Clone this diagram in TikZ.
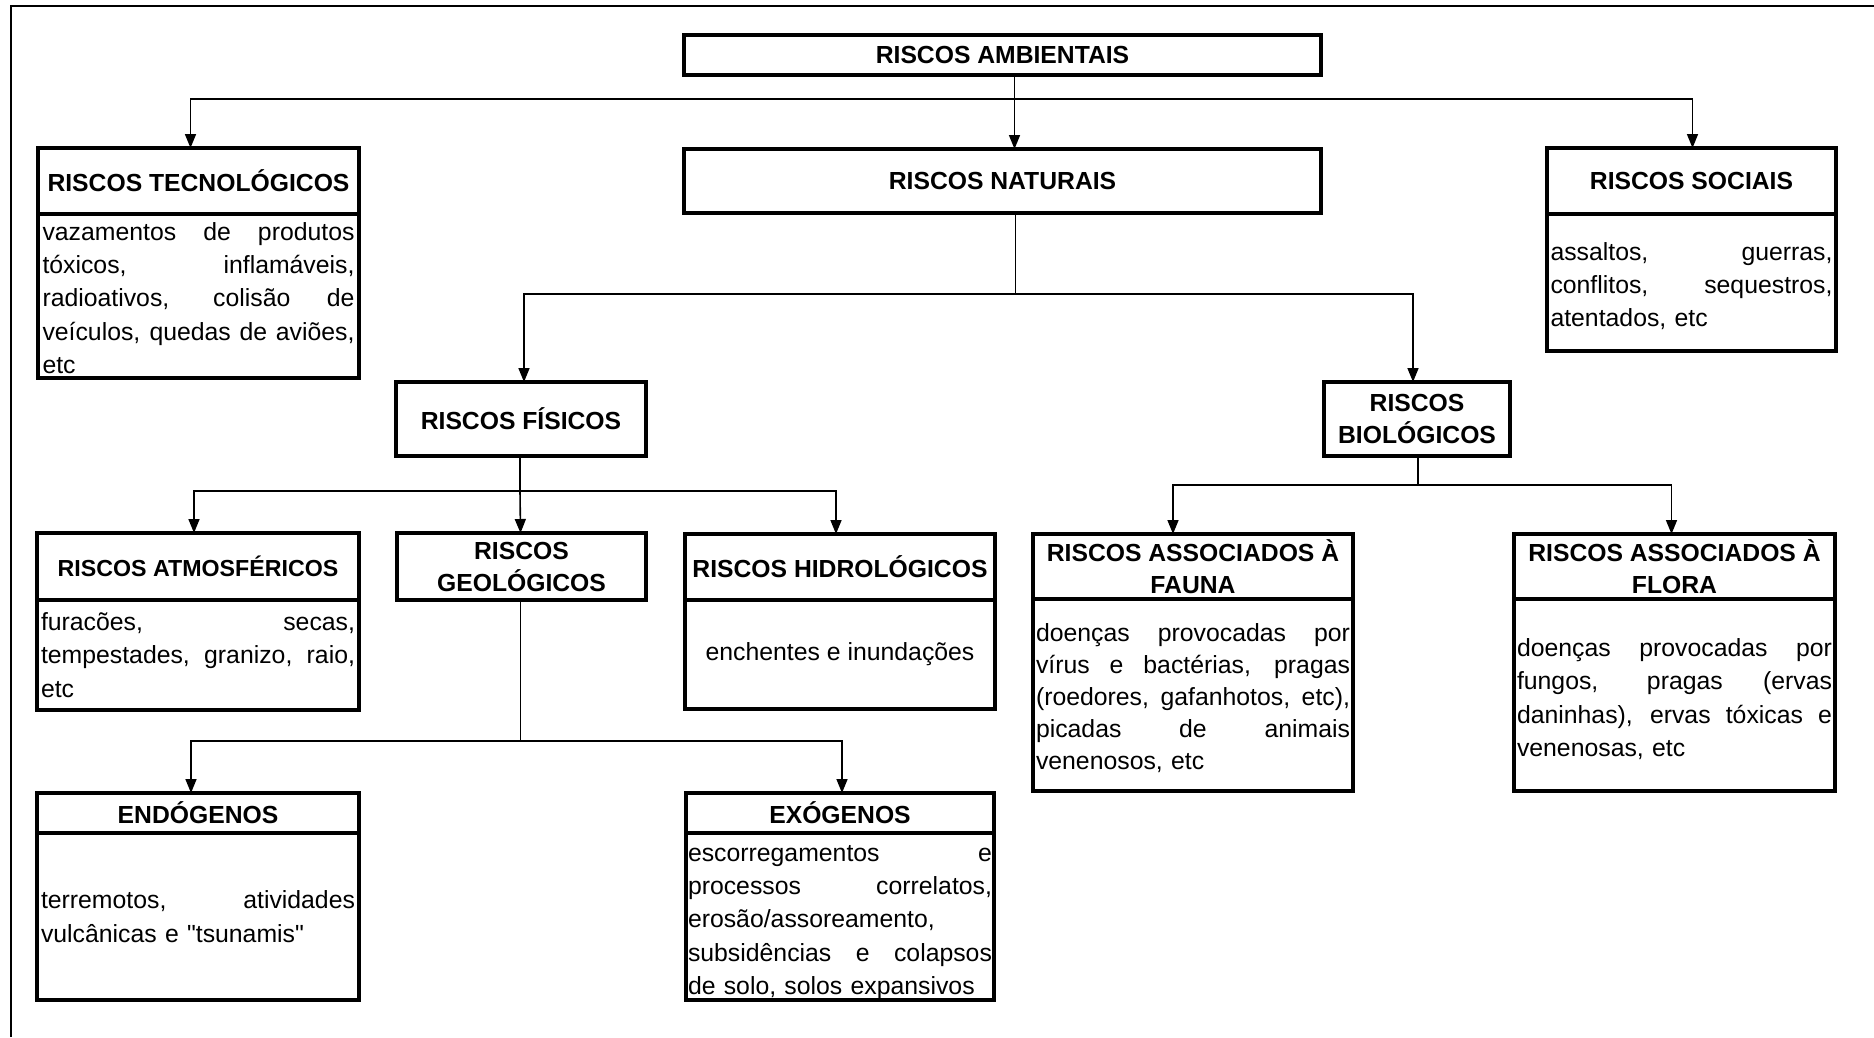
\documentclass[tikz,border=0pt]{standalone}
\usepackage{fontspec}
\setmainfont{Liberation Sans}[Ligatures=TeXOff]
\usetikzlibrary{arrows.meta}

% heading and body type
\newcommand\hdfont{\fontsize{24.7}{32}\selectfont\bfseries}
\newcommand\hdsmall{\fontsize{23.2}{30}\selectfont\bfseries}
\newcommand\txfont{\fontsize{24.8}{33.3}\selectfont\parindent=0pt }
\newcommand\txtight{\fontsize{24.8}{32}\selectfont\parindent=0pt }
% one fully justified line of body text, as wide as the current column
\newlength\colw
\newcommand\jl[1]{\leavevmode\hbox to \colw{\spaceskip=.28em plus 1fil minus .1em\xspaceskip=\spaceskip #1}}

\tikzset{
  box/.style={draw, line width=3.5pt, anchor=north west, inner sep=0pt,
    outer sep=0pt, align=center, font=\hdfont},
  txt/.style={draw, line width=3.5pt, anchor=north west, inner sep=0pt,
    outer sep=0pt, align=left, font=\txfont, text width=#1,
    execute at begin node={\setlength{\colw}{#1}}},
  plain/.style={draw, line width=3.5pt, anchor=north west, inner sep=0pt,
    outer sep=0pt, align=center, font=\txfont},
  wire/.style={line width=1.6pt},
  conn/.style={wire, -{Triangle[length=14pt,width=11pt]}},
  frame/.style={line width=1.8pt}
}

\begin{document}
\begin{tikzpicture}[x=1pt,y=-1pt]
\useasboundingbox (0,0) rectangle (1874,1037);

% page frame (top and left rules)
\draw[frame] (11,1037) -- (11,6) -- (1874,6);

% top level
\node[box, minimum width=637pt, minimum height=40pt] (amb) at (684,35) {RISCOS AMBIENTAIS};
\node[box, minimum width=637pt, minimum height=64pt] (nat) at (684,149) {RISCOS NATURAIS};

% technological risks
\node[txt=312pt, minimum width=321pt, minimum height=164pt] (tecb) at (38,214)
  {\jl{vazamentos de produtos}\\\jl{tóxicos, inflamáveis,}\\\jl{radioativos, colisão de}\\\jl{veículos, quedas de aviões,}\\etc\vspace{-4pt}};
\node[box, minimum width=321pt, minimum height=66pt] (tec) at (38,148) {RISCOS TECNOLÓGICOS};

% social risks
\node[txt=282pt, minimum width=289pt, minimum height=137pt] (socb) at (1547,214)
  {\jl{assaltos, guerras,}\\\jl{conflitos, sequestros,}\\atentados, etc\vspace{-7pt}};
\node[box, minimum width=289pt, minimum height=66pt] (soc) at (1547,148) {RISCOS SOCIAIS};

% physical and biological risks
\node[box, minimum width=250pt, minimum height=74pt] (fis) at (396,382) {RISCOS FÍSICOS};
\node[box, minimum width=186pt, minimum height=74pt] (bio) at (1324,382) {RISCOS\\BIOLÓGICOS};

% atmospheric
\node[txt=314pt, minimum width=322pt, minimum height=110pt] (atmb) at (37,600)
  {\jl{furacões, secas,}\\\jl{tempestades, granizo, raio,}\\etc};
\node[box, minimum width=322pt, minimum height=67pt, font=\hdsmall] (atm) at (37,533) {RISCOS ATMOSFÉRICOS};

% geological
\node[box, minimum width=249pt, minimum height=67pt] (geo) at (397,533) {RISCOS\\GEOLÓGICOS};

% hydrological
\node[plain, minimum width=310pt, minimum height=109pt] (hidb) at (685,600)
  {enchentes e inundações};
\node[box, minimum width=310pt, minimum height=66pt] (hid) at (685,534) {RISCOS HIDROLÓGICOS};

% endogenous
\node[txt=314pt, minimum width=322pt, minimum height=167pt] (endb) at (37,833)
  {\jl{terremotos, atividades}\\vulcânicas e "tsunamis"};
\node[box, minimum width=322pt, minimum height=40pt] (endh) at (37,793) {ENDÓGENOS};

% exogenous
\node[txt=304pt, minimum width=308pt, minimum height=167pt] (exob) at (686,833)
  {\jl{escorregamentos e}\\\jl{processos correlatos,}\\erosão/assoreamento,\\\jl{subsidências e colapsos}\\de solo, solos expansivos\vphantom{p}\vspace{-12pt}};
\node[box, minimum width=308pt, minimum height=40pt] (exoh) at (686,793) {EXÓGENOS};

% fauna
\node[txt=314pt, font=\txtight, minimum width=320pt, minimum height=192pt] (faub) at (1033,599)
  {\jl{doenças provocadas por}\\\jl{vírus e bactérias, pragas}\\\jl{(roedores, gafanhotos, etc),}\\\jl{picadas de animais}\\venenosos, etc\vspace{-7pt}};
\node[box, minimum width=320pt, minimum height=65pt] (fauh) at (1033,534) {RISCOS ASSOCIADOS À\\FAUNA};

% flora
\node[txt=315pt, minimum width=321pt, minimum height=192pt] (flob) at (1514,599)
  {\jl{doenças provocadas por}\\\jl{fungos, pragas (ervas}\\\jl{daninhas), ervas tóxicas e}\\venenosas, etc\vspace{-8pt}};
\node[box, minimum width=321pt, minimum height=65pt] (floh) at (1514,534) {RISCOS ASSOCIADOS À\\FLORA};

% connectors from the top box
\draw[conn] ([xshift=12pt]amb.south) -- ([xshift=12pt]nat.north);
\draw[conn] ([xshift=12pt]amb.south) ++(0,24) -| ([xshift=-8pt]tec.north);
\draw[conn] ([xshift=12pt]amb.south) ++(0,24) -| ([xshift=1pt]soc.north);

% natural risks split
\draw[wire] ([xshift=13pt]nat.south) -- ++(0,81) coordinate (nj);
\draw[conn] (nj) -| ([xshift=3pt]fis.north);
\draw[conn] (nj) -| ([xshift=-4pt]bio.north);

% physical risks split
\draw[wire] ([xshift=-1pt]fis.south) -- ++(0,35) coordinate (fj);
\draw[conn] (fj) -| ([xshift=-4pt]atm.north);
\draw[conn] (fj) -- ([xshift=-1pt]geo.north);
\draw[conn] (fj) -| ([xshift=-4pt]hid.north);

% geological risks split
\draw[wire] ([xshift=-1pt]geo.south) -- ++(0,141) coordinate (gj);
\draw[conn] (gj) -| ([xshift=-7pt]endh.north);
\draw[conn] (gj) -| ([xshift=2pt]exoh.north);

% biological risks split
\draw[wire] ([xshift=1pt]bio.south) -- ++(0,29) coordinate (bj);
\draw[conn] (bj) -| ([xshift=-20pt]fauh.north);
\draw[conn] (bj) -| ([xshift=-3pt]floh.north);
\end{tikzpicture}
\end{document}
